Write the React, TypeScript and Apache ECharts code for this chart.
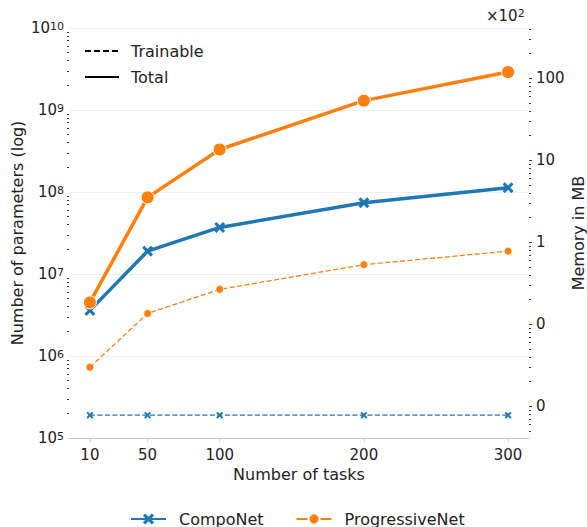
import React, { useEffect, useRef } from 'react';
import * as echarts from 'echarts';

// number of tasks on the x axis
const tasks = [10, 50, 100, 200, 300];

// parameter counts
const compoTotal = [3.6e6, 1.9e7, 3.7e7, 7.4e7, 1.13e8];
const compoTrainable = [1.9e5, 1.9e5, 1.9e5, 1.9e5, 1.9e5];
const progTotal = [4.5e6, 8.6e7, 3.3e8, 1.3e9, 2.9e9];
const progTrainable = [7.3e5, 3.3e6, 6.5e6, 1.3e7, 1.9e7];

// right axis (memory, x10^2 MB) decade exponents and range
const memoryExps = [-2, -1, 0, 1, 2];
const memoryRange = [-2.387, 2.613];
const paramExpRange = [5, 10];

const FONT = 'DejaVu Sans';
const TEXT = '#222222';
const BLUE = '#1f77b4';
const ORANGE = '#ff7f0e';
const X_MARK = 'path://M2,0 L5,3 L8,0 L10,2 L7,5 L10,8 L8,10 L5,7 L2,10 L0,8 L3,5 L0,2 Z';

// minor tick positions (2..9 x 10^d) expressed as exponents
const minorExps = (lo: number, hi: number) => {
    const out: number[] = [];
    for (let d = Math.floor(lo) - 1; d <= Math.ceil(hi); d++) {
        for (let k = 2; k <= 9; k++) {
            const v = d + Math.log10(k);
            if (v > lo && v < hi) out.push(v);
        }
    }
    return out;
};

const App: React.FC = () => {
    const chartRef = useRef<HTMLDivElement>(null);

    useEffect(() => {
        if (!chartRef.current) return;
        const chart = echarts.init(chartRef.current, undefined, { renderer: 'svg' });

        const pairs = (ys: number[]) => tasks.map((t, i) => [t, ys[i]]);
        const sup = {
            b: { fontSize: 15, fontFamily: FONT, color: TEXT, lineHeight: 15, verticalAlign: 'bottom' },
            s: { fontSize: 11, fontFamily: FONT, color: TEXT, lineHeight: 11, verticalAlign: 'top', padding: [0, 0, 7, 0] }
        };

        const option: echarts.EChartsOption = {
            animation: false,
            textStyle: { fontFamily: FONT, color: TEXT },
            grid: { left: 69, right: 58, top: 28, bottom: 89, containLabel: false, outerBoundsMode: 'none' } as any,
            legend: [
                {
                    orient: 'vertical',
                    left: 84,
                    top: 43,
                    padding: 0,
                    itemWidth: 34,
                    itemHeight: 14,
                    itemGap: 10,
                    textStyle: { fontSize: 16, fontFamily: FONT, color: TEXT, padding: [0, 0, 0, 7] },
                    data: [
                        { name: 'Trainable', itemStyle: { opacity: 0 } },
                        { name: 'Total', itemStyle: { opacity: 0 } }
                    ]
                },
                {
                    orient: 'horizontal',
                    left: 130,
                    top: 511,
                    padding: 0,
                    itemWidth: 35,
                    itemHeight: 14,
                    itemGap: 32,
                    textStyle: { fontSize: 16, fontFamily: FONT, color: TEXT, padding: [0, 0, 0, 8] },
                    data: ['CompoNet', 'ProgressiveNet']
                }
            ],
            xAxis: {
                type: 'value',
                min: -4.5,
                max: 314.5,
                name: 'Number of tasks',
                nameLocation: 'middle',
                nameGap: 28,
                nameTextStyle: { fontSize: 16, fontFamily: FONT, color: TEXT },
                axisLine: { show: true, onZero: false, lineStyle: { color: '#cccccc', width: 1 } },
                axisTick: { show: true, length: 4, lineStyle: { color: '#cccccc' }, customValues: tasks },
                axisLabel: { fontSize: 15, color: TEXT, margin: 9, customValues: tasks },
                splitLine: { show: false }
            },
            yAxis: [
                {
                    type: 'log',
                    logBase: 10,
                    min: 1e5,
                    max: 1e10,
                    position: 'left',
                    name: 'Number of parameters (log)',
                    nameLocation: 'middle',
                    nameRotate: 90,
                    nameGap: 44,
                    nameMoveOverlap: false,
                    nameTextStyle: { fontSize: 16, fontFamily: FONT, color: TEXT },
                    axisLine: { show: false },
                    axisTick: { show: false },
                    axisLabel: {
                        margin: 5,
                        formatter: (v: number) => `{b|10}{s|${Math.round(Math.log10(v))}}`,
                        rich: sup as any
                    },
                    splitLine: { show: true, lineStyle: { color: '#efefef', width: 1 } }
                } as any,
                {
                    // minor ticks of the parameter axis
                    type: 'value',
                    min: paramExpRange[0],
                    max: paramExpRange[1],
                    position: 'left',
                    axisLine: { show: false, onZero: false },
                    axisTick: { show: true, length: 2, lineStyle: { color: '#333333', width: 1 }, customValues: minorExps(paramExpRange[0], paramExpRange[1]) },
                    axisLabel: { show: false },
                    splitLine: { show: false }
                },
                {
                    type: 'value',
                    min: memoryRange[0],
                    max: memoryRange[1],
                    position: 'right',
                    name: 'Memory in MB',
                    nameLocation: 'middle',
                    nameRotate: 90,
                    nameGap: 41,
                    nameMoveOverlap: false,
                    nameTextStyle: { fontSize: 16, fontFamily: FONT, color: TEXT },
                    axisLine: { show: false, onZero: false },
                    axisTick: { show: true, length: 3, lineStyle: { color: '#333333', width: 1 }, customValues: memoryExps },
                    axisLabel: {
                        fontSize: 15,
                        color: TEXT,
                        margin: 7,
                        customValues: memoryExps,
                        formatter: (v: number) => String(Math.round(Math.pow(10, v)))
                    },
                    splitLine: { show: false }
                } as any,
                {
                    // minor ticks of the memory axis
                    type: 'value',
                    min: memoryRange[0],
                    max: memoryRange[1],
                    position: 'right',
                    axisLine: { show: false, onZero: false },
                    axisTick: { show: true, length: 2, lineStyle: { color: '#333333', width: 1 }, customValues: minorExps(memoryRange[0], memoryRange[1]) },
                    axisLabel: { show: false },
                    splitLine: { show: false }
                }
            ],
            graphic: [
                {
                    type: 'text',
                    left: 486,
                    top: 8,
                    style: {
                        text: '{a|×10}{s|2}',
                        rich: {
                            a: { fontSize: 15, fontFamily: FONT, fill: TEXT, lineHeight: 15, verticalAlign: 'bottom' },
                            s: { fontSize: 11, fontFamily: FONT, fill: TEXT, lineHeight: 11, verticalAlign: 'top', padding: [0, 0, 7, 0] }
                        } as any
                    }
                }
            ],
            series: [
                {
                    name: 'Trainable',
                    type: 'line',
                    data: [],
                    symbol: 'none',
                    itemStyle: { color: '#000' },
                    lineStyle: { color: '#000', width: 1.5, type: [6, 3] }
                },
                {
                    name: 'Total',
                    type: 'line',
                    data: [],
                    symbol: 'none',
                    itemStyle: { color: '#000' },
                    lineStyle: { color: '#000', width: 1.8 }
                },
                {
                    name: 'CompoNet',
                    type: 'line',
                    data: pairs(compoTotal),
                    symbol: X_MARK,
                    symbolSize: 11,
                    itemStyle: { color: BLUE },
                    lineStyle: { color: BLUE, width: 3.5 },
                    z: 3
                },
                {
                    name: 'CompoNet',
                    type: 'line',
                    data: pairs(compoTrainable),
                    symbol: X_MARK,
                    symbolSize: 7,
                    itemStyle: { color: BLUE },
                    lineStyle: { color: BLUE, width: 1.3, type: [5, 2.5] },
                    z: 3
                },
                {
                    name: 'ProgressiveNet',
                    type: 'line',
                    data: pairs(progTotal),
                    symbol: 'circle',
                    symbolSize: 13,
                    itemStyle: { color: ORANGE, borderColor: '#ffffff', borderWidth: 1 },
                    lineStyle: { color: ORANGE, width: 3.5 },
                    z: 4
                },
                {
                    name: 'ProgressiveNet',
                    type: 'line',
                    data: pairs(progTrainable),
                    symbol: 'circle',
                    symbolSize: 8,
                    itemStyle: { color: ORANGE, borderColor: '#ffffff', borderWidth: 0.8 },
                    lineStyle: { color: ORANGE, width: 1.3, type: [5, 2.5] },
                    z: 4
                }
            ]
        };

        chart.setOption(option);
        return () => {
            chart.dispose();
        };
    }, []);

    return (
        <div
            ref={chartRef}
            style={{ position: 'absolute', left: 0, top: 0, width: 587, height: 527, background: '#ffffff' }}
        />
    );
};

export default App;
